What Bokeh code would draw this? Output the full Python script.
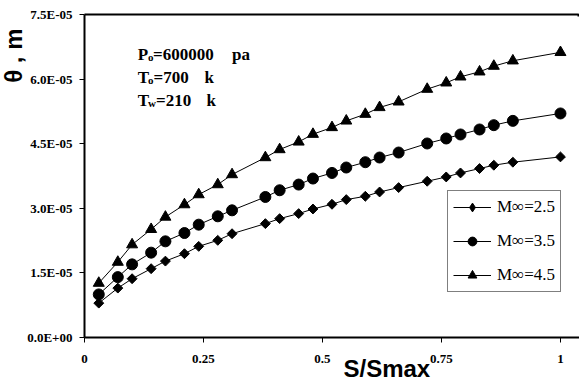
import numpy as np
from bokeh.plotting import figure
from bokeh.models import Range1d, FixedTicker, Label, Legend, LegendItem, Title
from bokeh.embed import file_html
from bokeh.resources import INLINE

# ---------------- data ----------------
s_ratio = [0.03, 0.07, 0.10, 0.14, 0.17, 0.21, 0.24, 0.28, 0.31, 0.38, 0.41, 0.45, 0.48,
           0.52, 0.55, 0.59, 0.62, 0.66, 0.72, 0.76, 0.79, 0.83, 0.86, 0.90, 1.00]
theta_m25 = [0.798, 1.147, 1.365, 1.598, 1.774, 1.946, 2.116, 2.256, 2.410, 2.644, 2.760, 2.877, 2.984,
             3.093, 3.202, 3.279, 3.379, 3.481, 3.628, 3.728, 3.821, 3.923, 4.000, 4.070, 4.193]
theta_m35 = [1.000, 1.402, 1.698, 1.970, 2.233, 2.426, 2.620, 2.814, 2.953, 3.263, 3.419, 3.551, 3.691,
             3.821, 3.947, 4.070, 4.179, 4.295, 4.505, 4.621, 4.714, 4.830, 4.930, 5.030, 5.202]
theta_m45 = [1.263, 1.751, 2.156, 2.512, 2.798, 3.086, 3.319, 3.551, 3.784, 4.179, 4.365, 4.542, 4.721,
             4.877, 5.030, 5.186, 5.342, 5.472, 5.767, 5.914, 6.053, 6.170, 6.302, 6.426, 6.621]
theta_unit = 1e-5
series_names = ["M\u221e=2.5", "M\u221e=3.5", "M\u221e=4.5"]

x_ticks = [0, 0.25, 0.5, 0.75, 1]
x_tick_labels = ["0", "0.25", "0.5", "0.75", "1"]
y_ticks = [0.0, 1.5e-5, 3.0e-5, 4.5e-5, 6.0e-5, 7.5e-5]
y_tick_labels = ["0.0E+00", "1.5E-05", "3.0E-05", "4.5E-05", "6.0E-05", "7.5E-05"]

SERIF = "Liberation Serif"
SANS = "Liberation Sans"

Y_TOP = 7.5e-5
PX_PER_Y = 64.5 / 1.5e-5   # screen pixels per data unit on y (layout helper)

# ---------------- figure ----------------
p = figure(width=579, height=382, output_backend="svg", toolbar_location=None,
           x_range=Range1d(0, 1.04), y_range=Range1d(0, Y_TOP),
           min_border_left=84, min_border_right=0, min_border_top=14, min_border_bottom=45)
# frame outline: only the top edge is drawn (dash covers the top edge, gap hides the right edge)
p.outline_line_color = "black"
p.outline_line_width = 2
p.outline_line_dash = "496 3000"
p.grid.visible = False
p.background_fill_color = "white"
p.border_fill_color = "white"

xa = p.xaxis[0]
ya = p.yaxis[0]
xa.ticker = FixedTicker(ticks=x_ticks)
xa.major_label_overrides = dict(zip(x_ticks, x_tick_labels))
ya.ticker = FixedTicker(ticks=y_ticks)
ya.major_label_overrides = dict(zip(y_ticks, y_tick_labels))
for ax in (xa, ya):
    ax.axis_line_width = 2
    ax.axis_line_color = "black"
    ax.major_tick_in = 0
    ax.major_tick_out = 5
    ax.major_tick_line_color = "black"
    ax.minor_tick_line_color = None
    ax.major_label_text_font = SERIF
    ax.major_label_text_font_style = "bold"
    ax.major_label_text_font_size = "13px"
    ax.major_label_text_color = "black"
xa.major_label_standoff = 12
ya.major_label_standoff = 7

# axis titles as side-panel titles
p.add_layout(Title(text="S/Smax", align="left", offset=259, standoff=-21, vertical_align="top",
                   text_font=SANS, text_font_size="24px", text_font_style="bold",
                   text_color="black"), "below")
p.add_layout(Title(text="\u03b8 , m", align="right", offset=14, standoff=-5,
                   text_font=SANS, text_font_size="24px", text_font_style="bold",
                   text_color="black"), "left")

ys = [np.array(theta_m25) * theta_unit, np.array(theta_m35) * theta_unit, np.array(theta_m45) * theta_unit]
markers = [("square", 7, np.pi / 4), ("circle", 11, 0.0), ("triangle", 11, 0.0)]
legend_markers = ["diamond", "circle", "triangle"]
items = []
for name, yv, (mk, sz, ang), lmk in zip(series_names, ys, markers, legend_markers):
    ln = p.line(s_ratio, yv, line_color="black", line_width=1)
    sc = p.scatter(s_ratio, yv, marker=mk, size=sz, angle=ang, fill_color="black", line_color="black")
    if lmk != mk:
        sc_leg = p.scatter(s_ratio, yv, marker=lmk, size=sz, fill_color="black", line_color="black",
                           visible=False)
        items.append(LegendItem(label=name, renderers=[ln, sc_leg]))
    else:
        items.append(LegendItem(label=name, renderers=[ln, sc]))

legend = Legend(items=items, location=(363, 45), padding=5, spacing=12, label_height=22,
                glyph_height=22, glyph_width=38, label_standoff=6,
                label_text_font=SERIF, label_text_font_size="17px", label_text_color="black",
                border_line_color="black", border_line_width=1, background_fill_color="white",
                background_fill_alpha=1.0, margin=0)
p.add_layout(legend)


def px_x(px):
    return (px - 84) / 476.0


def px_y(py):
    return (337 - py) / PX_PER_Y


def lab(px, py, text, size="17px"):
    p.add_layout(Label(x=px_x(px), y=px_y(py), text=text, text_font=SERIF, text_font_size=size,
                       text_font_style="bold", text_color="black", text_baseline="alphabetic"))

# condition annotations (subscripts drawn as smaller, lowered texts)
lab(137.3, 54, "P")
lab(147.5, 56.5, "o", size="11px")
lab(152.5, 54, "=600000")
lab(231.5, 54, "pa")
lab(137.3, 77.3, "T")
lab(147.5, 79.8, "o", size="11px")
lab(153.0, 77.3, "=700")
lab(204.0, 77.3, "k")
lab(137.3, 100.7, "T")
lab(147.5, 103.2, "w", size="11px")
lab(155.5, 100.7, "=210")
lab(206.0, 100.7, "k")

open("out.html", "w").write(file_html(p, INLINE))
